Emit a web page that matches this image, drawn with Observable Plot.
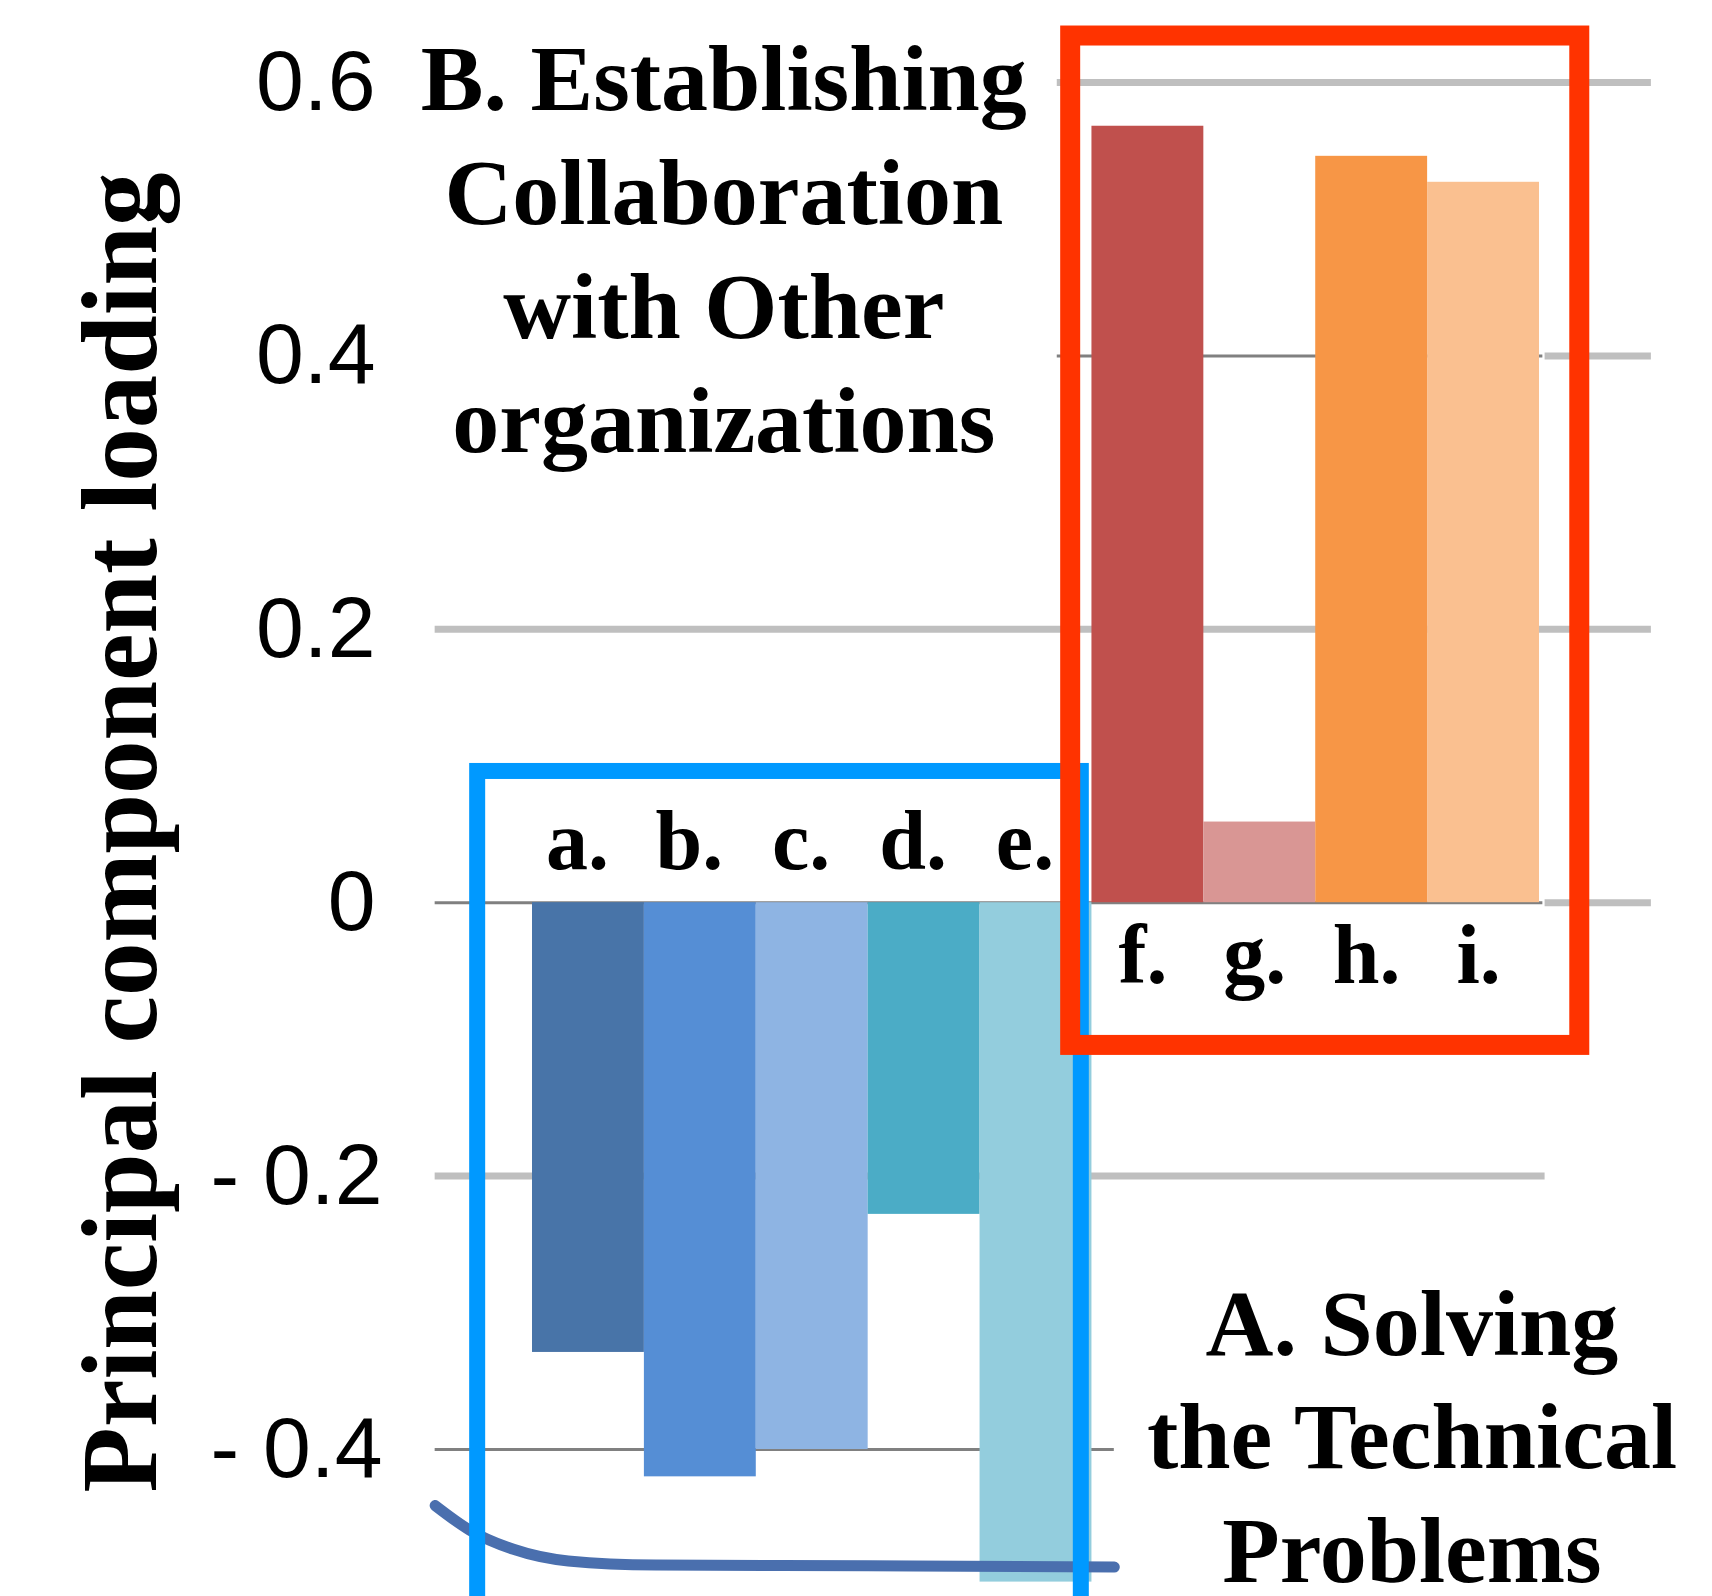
<!DOCTYPE html>
<html>
<head>
<meta charset="utf-8">
<script src="https://cdn.jsdelivr.net/npm/d3@7"></script>
<script src="https://cdn.jsdelivr.net/npm/@observablehq/plot@0.6"></script>
<style>
  html, body { margin: 0; padding: 0; background: #ffffff; }
  #chart svg { display: block; }
</style>
</head>
<body>
<div id="chart"></div>
<script>
// ---- Data ----
const categories = ["a", "b", "c", "d", "e", "f", "g", "h", "i"];
const barLabels = ["a.", "b.", "c.", "d.", "e.", "f.", "g.", "h.", "i."];
const loadings = [-0.329, -0.420, -0.400, -0.228, -0.497, 0.568, 0.059, 0.546, 0.527];
const groupOf = ["A", "A", "A", "A", "A", "B", "B", "B", "B"];
const barColors = ["#4874a8", "#558ed5", "#8eb4e3", "#4bacc6", "#93cddd",
                   "#c0504d", "#d99694", "#f79646", "#fac090"];
const tickValues = [0.6, 0.4, 0.2, 0, -0.2, -0.4];
const tickLabels = ["0.6", "0.4", "0.2", "0", "- 0.2", "- 0.4"];
const yTitle = "Principal component loading";
const groupNames = ["A", "B"];
const groupTitles = ["A. Solving\nthe Technical\nProblems",
                     "B. Establishing\nCollaboration\nwith Other\norganizations"];
// decorative curve visible at the bottom (x in bar slots, y in loading units)
const curveX = [-0.87, -0.56, -0.17, 0.32, 1.1, 3.0, 5.2];
const curveY = [-0.441, -0.459, -0.473, -0.4815, -0.4845, -0.485, -0.486];

// ---- Build tables ----
const bars = categories.map((c, i) => ({
  i, cat: c, label: barLabels[i], value: loadings[i], color: barColors[i], group: groupOf[i]
}));
const curve = curveX.map((x, k) => ({x, y: curveY[k]}));
const ticks = tickValues.map((v, k) => ({v, label: tickLabels[k]}));

const serif = "'Liberation Serif', 'Times New Roman', serif";
const sans = "'Liberation Sans', Arial, sans-serif";
const lightGrid = "#bfbfbf", darkGrid = "#808080";

// gridline styling (extents in bar-slot units)
const gridSpec = [
  {y: tickValues[0], x1: 4.69, x2: 10.0, stroke: lightGrid, w: 7},
  {y: tickValues[1], x1: 4.69, x2: 9.03, stroke: darkGrid, w: 3},
  {y: tickValues[1], x1: 9.05, x2: 10.0, stroke: lightGrid, w: 7},
  {y: tickValues[2], x1: -0.87, x2: 10.0, stroke: lightGrid, w: 7},
  {y: tickValues[3], x1: -0.87, x2: 9.03, stroke: darkGrid, w: 3},
  {y: tickValues[3], x1: 9.05, x2: 10.0, stroke: lightGrid, w: 7},
  {y: tickValues[4], x1: -0.87, x2: 9.05, stroke: lightGrid, w: 7},
  {y: tickValues[5], x1: -0.87, x2: 5.2, stroke: darkGrid, w: 3}
];

// group highlight boxes derived from group membership
function groupExtent(g) {
  const idx = bars.filter(d => d.group === g).map(d => d.i);
  return [d3.min(idx), d3.max(idx) + 1];
}
const [aLo, aHi] = groupExtent("A");
const [bLo, bHi] = groupExtent("B");
const boxes = [
  {x1: aLo - 0.49, x2: aHi - 0.095, y1: 0.096, y2: -0.56, stroke: "#0099ff", w: 16},
  {x1: bLo - 0.19, x2: bHi + 0.36, y1: 0.634, y2: -0.1044, stroke: "#ff3300", w: 20}
];

const titles = [
  {text: groupTitles[1], x: 1.71, y: 0.33},
  {text: groupTitles[0], x: 7.86, y: -0.497}
];

const tickText = {text: "label", frameAnchor: "left", textAnchor: "end", lineAnchor: "middle",
  fontFamily: sans, fontSize: 86, fill: "#000"};

const chart = Plot.plot({
  width: 1712,
  height: 1596,
  marginLeft: 0, marginRight: 0, marginTop: 0, marginBottom: 0,
  style: {background: "#ffffff", overflow: "visible"},
  x: {domain: [0, categories.length], range: [532, 1539], axis: null},
  y: {domain: [-0.4, 0.6], range: [1449, 82], axis: null},
  color: {type: "identity"},
  marks: [
    // gridlines
    Plot.ruleY(gridSpec, {y: "y", x1: "x1", x2: "x2", stroke: d => d.stroke, strokeWidth: d => d.w}),
    // bars
    Plot.rectY(bars, {x1: "i", x2: d => d.i + 1, y1: 0, y2: "value", fill: d => d.color}),
    // decorative curve
    Plot.line(curve, {x: "x", y: "y", stroke: "#4a6fae", strokeWidth: 11, curve: "monotone-x"}),
    // group boxes
    Plot.rect(boxes, {x1: "x1", x2: "x2", y1: "y1", y2: "y2", fill: "none",
      stroke: d => d.stroke, strokeWidth: d => d.w}),
    // bar labels
    Plot.text(bars.filter(d => d.value < 0), {x: d => d.i + 0.5, y: 0.0248, text: "label", dx: -11,
      fontFamily: serif, fontWeight: "bold", fontSize: 84, fill: "#000", lineAnchor: "bottom"}),
    Plot.text(bars.filter(d => d.value >= 0), {x: d => d.i + 0.5, y: -0.059, text: "label", dx: -5,
      fontFamily: serif, fontWeight: "bold", fontSize: 84, fill: "#000", lineAnchor: "bottom"}),
    // y tick labels
    Plot.text(ticks.filter(d => d.v >= 0), {y: "v", dx: 375, ...tickText}),
    Plot.text(ticks.filter(d => d.v < 0), {y: "v", dx: 382, ...tickText}),
    // y axis title
    Plot.text([yTitle], {frameAnchor: "left", dx: 155, dy: 34, rotate: -90, textAnchor: "middle",
      lineAnchor: "bottom", fontFamily: serif, fontWeight: "bold", fontSize: 107, fill: "#000"}),
    // group titles
    Plot.text(titles, {x: "x", y: "y", text: "text", textAnchor: "middle", lineAnchor: "bottom",
      lineHeight: 1.21, fontFamily: serif, fontWeight: "bold", fontSize: 94, fill: "#000"})
  ]
});
document.getElementById("chart").appendChild(chart);
</script>
</body>
</html>
